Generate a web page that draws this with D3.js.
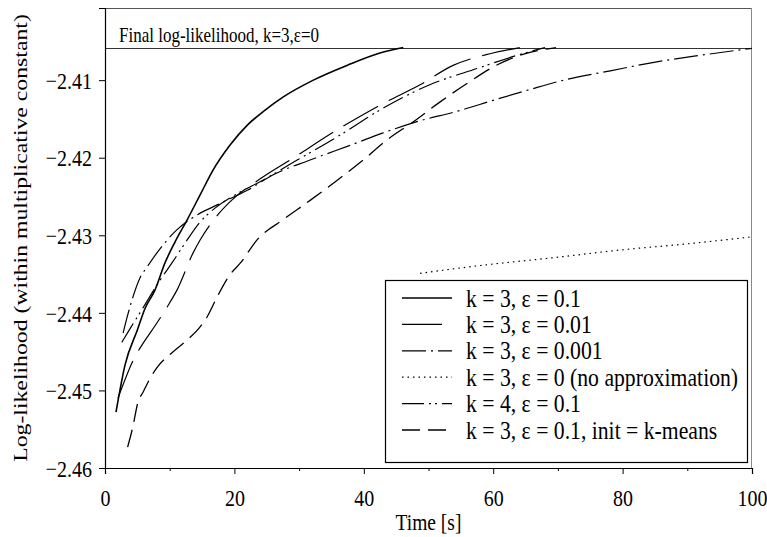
<!DOCTYPE html>
<html>
<head>
<meta charset="utf-8">
<script src="https://cdn.jsdelivr.net/npm/d3@7"></script>
<style>
  body { margin: 0; background: #fff; }
  text { font-family: "Liberation Serif", "Times New Roman", serif; fill: #000; }
</style>
</head>
<body>
<div id="chart"></div>
<script>
// values (time in s, log-likelihood)
var tEps01 = [1.7, 3.1, 5.0, 6.2, 7.7, 9.3, 10.8, 12.7, 14.7, 16.7, 19.3, 22.0, 24.7, 27.5, 32.2, 37.4, 42.5, 46.1];
var llEps01 = [-2.4528, -2.4467, -2.4422, -2.4394, -2.4371, -2.4335, -2.4309, -2.4280, -2.4248, -2.4216, -2.4184, -2.4158, -2.4139, -2.4122, -2.4100, -2.4081, -2.4065, -2.4058];

var tEps001 = [2.0, 4.6, 5.9, 7.3, 10.0, 11.1, 13.6, 14.7, 17.0, 19.3, 24.4, 28.6, 35.9, 43.0, 48.7, 53.8, 59.5, 64.1];
var llEps001 = [-2.4510, -2.4457, -2.4439, -2.4422, -2.4387, -2.4371, -2.4323, -2.4306, -2.4278, -2.4257, -2.4225, -2.4203, -2.4164, -2.4130, -2.4106, -2.4081, -2.4066, -2.4058];

var tEps0001 = [2.8, 3.5, 4.3, 5.4, 6.5, 8.0, 11.1, 13.6, 17.8, 22.0, 26.0, 31.7, 37.9, 43.0, 47.6, 54.9, 60.0, 65.7, 71.4, 78.1, 84.2, 92.0, 100];
var llEps0001 = [-2.4426, -2.4403, -2.4380, -2.4355, -2.4341, -2.4323, -2.4293, -2.4277, -2.4259, -2.4242, -2.4222, -2.4203, -2.4184, -2.4168, -2.4155, -2.4139, -2.4126, -2.4112, -2.4099, -2.4088, -2.4078, -2.4068, -2.4059];

var tExact = [48.7, 59.0, 69.2, 79.6, 90.0, 100];
var llExact = [-2.4349, -2.4338, -2.4329, -2.4319, -2.4311, -2.4302];

var tK4 = [2.6, 3.9, 5.4, 7.0, 8.5, 10.4, 12.7, 14.7, 17.0, 20.1, 24.4, 29.7, 35.9, 43.0, 50.2, 57.5, 63.7, 68.0];
var llK4 = [-2.4438, -2.4420, -2.4400, -2.4378, -2.4358, -2.4335, -2.4306, -2.4283, -2.4265, -2.4248, -2.4229, -2.4203, -2.4173, -2.4136, -2.4106, -2.4085, -2.4068, -2.4058];

var tKmeans = [3.5, 4.3, 5.1, 5.9, 7.0, 8.0, 10.4, 12.7, 14.7, 15.8, 17.3, 19.3, 20.9, 23.5, 27.5, 31.7, 35.9, 39.9, 43.6, 47.6, 51.8, 56.0, 60.0, 64.1, 69.7];
var llKmeans = [-2.4573, -2.4547, -2.4515, -2.4502, -2.4484, -2.4471, -2.4451, -2.4435, -2.4418, -2.4405, -2.4380, -2.4351, -2.4336, -2.4306, -2.4280, -2.4255, -2.4229, -2.4203, -2.4177, -2.4154, -2.4128, -2.4104, -2.4083, -2.4068, -2.4058];

var seriesLabels = [
  "k = 3, \u03b5 = 0.1",
  "k = 3, \u03b5 = 0.01",
  "k = 3, \u03b5 = 0.001",
  "k = 3, \u03b5 = 0 (no approximation)",
  "k = 4, \u03b5 = 0.1",
  "k = 3, \u03b5 = 0.1, init = k-means"
];

var finalLL = -2.4058;
var finalLabel = "Final log-likelihood, k=3,\u03b5=0";
var xTicks = [0, 20, 40, 60, 80, 100];
var xMinorTicks = [10, 30, 50, 70, 90];
var yTicks = [-2.46, -2.45, -2.44, -2.43, -2.42, -2.41];

// line look per series, same order as the labels
var styles = [
  { width: 1.6, dash: null },
  { width: 1.2, dash: "40,12" },
  { width: 1.2, dash: "24,5,2,5" },
  { width: 1.2, dash: "1.5,4" },
  { width: 1.2, dash: "22,5,2,4,2,5" },
  { width: 1.3, dash: "18,8" }
];

var opt = {
  width: 767, height: 537,
  margin: { top: 8, right: 15, bottom: 69, left: 105 },
  stretch: 1.2
};
opt.inWidth = opt.width - opt.margin.left - opt.margin.right;
opt.inHeight = opt.height - opt.margin.top - opt.margin.bottom;

var series = [
  { t: tEps01, v: llEps01 },
  { t: tEps001, v: llEps001 },
  { t: tEps0001, v: llEps0001 },
  { t: tExact, v: llExact },
  { t: tK4, v: llK4 },
  { t: tKmeans, v: llKmeans }
].map(function(s, i) {
  return { label: seriesLabels[i], style: styles[i],
    points: s.t.map(function(t, j) { return [t, s.v[j]]; }) };
});

var svg = d3.select("#chart").append("svg")
  .attr("width", opt.width)
  .attr("height", opt.height);

var g = svg.append("g")
  .attr("transform", "translate(" + opt.margin.left + "," + opt.margin.top + ")");

var x = d3.scaleLinear().domain([0, 100]).range([0, opt.inWidth]);
var y = d3.scaleLinear().domain([-2.46, -2.4007]).range([opt.inHeight, 0]);

// frame: top and right sides are light
g.append("line").attr("x1", 0).attr("x2", opt.inWidth).attr("y1", 0.5).attr("y2", 0.5)
  .attr("stroke", "#555").attr("stroke-width", 1);
g.append("line").attr("x1", opt.inWidth - 0.5).attr("x2", opt.inWidth - 0.5).attr("y1", 0).attr("y2", opt.inHeight)
  .attr("stroke", "#888").attr("stroke-width", 1);

// final log-likelihood reference line
g.append("line")
  .attr("x1", 0).attr("x2", opt.inWidth)
  .attr("y1", Math.round(y(finalLL)) + 0.5).attr("y2", Math.round(y(finalLL)) + 0.5)
  .attr("stroke", "#333").attr("stroke-width", 1);

g.append("text")
  .attr("transform", "translate(" + 14 + "," + (y(finalLL) - 6) + ") scale(1," + opt.stretch + ")")
  .style("font-size", "17px")
  .text(finalLabel);

// curves
var line = d3.line()
  .x(function(d) { return x(d[0]); })
  .y(function(d) { return y(d[1]); })
  .curve(d3.curveMonotoneX);

g.append("clipPath").attr("id", "plotclip")
  .append("rect").attr("width", opt.inWidth).attr("height", opt.inHeight);

g.append("g").attr("clip-path", "url(#plotclip)")
  .selectAll("path")
  .data(series).enter()
  .append("path")
  .attr("d", function(d) { return line(d.points); })
  .attr("fill", "none")
  .attr("stroke", "#000")
  .attr("stroke-width", function(d) { return d.style.width; })
  .attr("stroke-dasharray", function(d) { return d.style.dash; });

// axes
var yAxis = g.append("g")
  .call(d3.axisLeft(y).tickValues(yTicks).tickSize(6).tickPadding(7).tickFormat(d3.format(".2f")));
var xAxis = g.append("g")
  .attr("transform", "translate(0," + opt.inHeight + ")")
  .call(d3.axisBottom(x).tickValues(xTicks).tickSize(6).tickFormat(d3.format("d")));
var xMinor = g.append("g")
  .attr("transform", "translate(0," + opt.inHeight + ")")
  .call(d3.axisBottom(x).tickValues(xMinorTicks).tickSize(3).tickFormat(""));

[yAxis, xAxis, xMinor].forEach(function(a) {
  a.select(".domain").attr("stroke", "#000").attr("stroke-width", 1.2);
  a.selectAll(".tick line").attr("stroke", "#000");
  a.selectAll("text").style("font-size", "20px").style("font-family", null).attr("fill", "#000");
});
xMinor.select(".domain").remove();

yAxis.selectAll(".tick text")
  .attr("x", null).attr("dy", null)
  .attr("dominant-baseline", "central")
  .attr("transform", "translate(-13,0) scale(1," + opt.stretch + ")");
xAxis.selectAll(".tick text")
  .attr("y", null).attr("dy", null)
  .attr("dominant-baseline", "central")
  .attr("transform", "translate(0,30) scale(1," + opt.stretch + ")");

// axis titles
svg.append("text")
  .attr("transform", "translate(" + (opt.margin.left + opt.inWidth / 2) + ",522) scale(1," + opt.stretch + ")")
  .attr("text-anchor", "middle")
  .attr("dominant-baseline", "central")
  .style("font-size", "19.5px")
  .text("Time [s]");

svg.append("text")
  .attr("transform", "translate(21," + (opt.margin.top + opt.inHeight / 2) + ") scale(1,1.25) rotate(-90)")
  .attr("text-anchor", "middle")
  .attr("dominant-baseline", "central")
  .style("font-size", "19px")
  .text("Log-likelihood (within multiplicative constant)");

// legend
var legend = { x: 385, y: 280, w: 362, h: 182, rowH: 26.4, first: 298 };
var lg = svg.append("g");
lg.append("rect")
  .attr("x", legend.x + 0.5).attr("y", legend.y + 0.5)
  .attr("width", legend.w).attr("height", legend.h)
  .attr("fill", "#fff").attr("stroke", "#000").attr("stroke-width", 1.2);

var rows = lg.selectAll("g.row")
  .data(series).enter()
  .append("g").attr("class", "row")
  .attr("transform", function(d, i) { return "translate(0," + (legend.first + i * legend.rowH) + ")"; });
rows.append("line")
  .attr("x1", 402).attr("x2", 452)
  .attr("stroke", "#000")
  .attr("stroke-width", function(d) { return d.style.width; })
  .attr("stroke-dasharray", function(d) { return d.style.dash; });
rows.append("text")
  .attr("transform", "translate(466,0) scale(1," + opt.stretch + ")")
  .attr("dominant-baseline", "central")
  .style("font-size", "21.7px")
  .text(function(d) { return d.label; });
</script>
</body>
</html>
